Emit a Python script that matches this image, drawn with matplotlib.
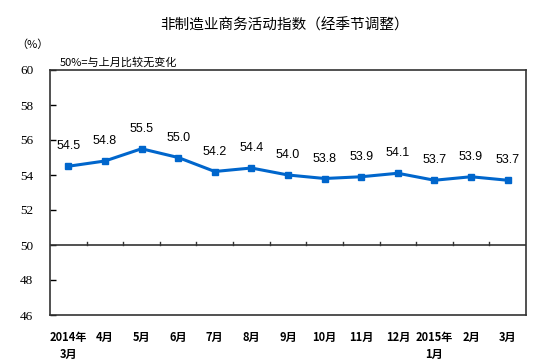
import matplotlib.pyplot as plt
import numpy as np

plt.rcParams['font.family'] = ['Noto Sans CJK SC', 'DejaVu Sans']

# 月份标签和指数值
months = ['2014年\n3月', '4月', '5月', '6月', '7月', '8月', '9月',
          '10月', '11月', '12月', '2015年\n1月', '2月', '3月']
values = [54.5, 54.8, 55.5, 55.0, 54.2, 54.4, 54.0,
          53.8, 53.9, 54.1, 53.7, 53.9, 53.7]
yticks = [46, 48, 50, 52, 54, 56, 58, 60]

fig = plt.figure(figsize=(5.43, 3.64), dpi=100)
ax = fig.add_axes([50 / 543, 1 - 315 / 364, 476 / 543, 245 / 364])

x = np.arange(len(values))
line_color = '#0066CC'
ax.plot(x, values, color=line_color, linewidth=2.2, marker='s', markersize=5)

for xi, v in zip(x, values):
    ax.annotate('%.1f' % v, (xi, v), xytext=(0, 10), textcoords='offset points',
                ha='center', va='bottom', fontsize=9, family='Liberation Sans')

ax.set_xlim(-0.5, len(values) - 0.5)
ax.set_ylim(46, 60)

# 50 的基准线
ax.axhline(50, color='#333333', linewidth=1.2)

ax.set_yticks(yticks)
ax.set_yticklabels([str(t) for t in yticks], family='Liberation Serif', fontsize=9.5)
ax.tick_params(axis='y', direction='in', length=4, width=1, pad=12)

# x 轴刻度放在 50 线上（类别之间）
ax.set_xticks([])
for k in range(1, len(values)):
    ax.plot([k - 0.5, k - 0.5], [50, 50.2], color='#333333', linewidth=1)

for xi, m in zip(x, months):
    ax.text(xi, 45.1, m, ha='center', va='top', fontsize=8, fontweight='bold',
            linespacing=1.4)

for s in ax.spines.values():
    s.set_color('#333333')
    s.set_linewidth(1.2)

fig.text(285 / 543, 1 - 25 / 364, '非制造业商务活动指数（经季节调整）',
         ha='center', va='center', fontsize=10.5)
fig.text(16 / 543, 1 - 45 / 364, '（%）', ha='left', va='center', fontsize=8)
fig.text(60 / 543, 1 - 62 / 364, '50%=与上月比较无变化', ha='left', va='center', fontsize=8)

fig.savefig('out.png', dpi=100)
